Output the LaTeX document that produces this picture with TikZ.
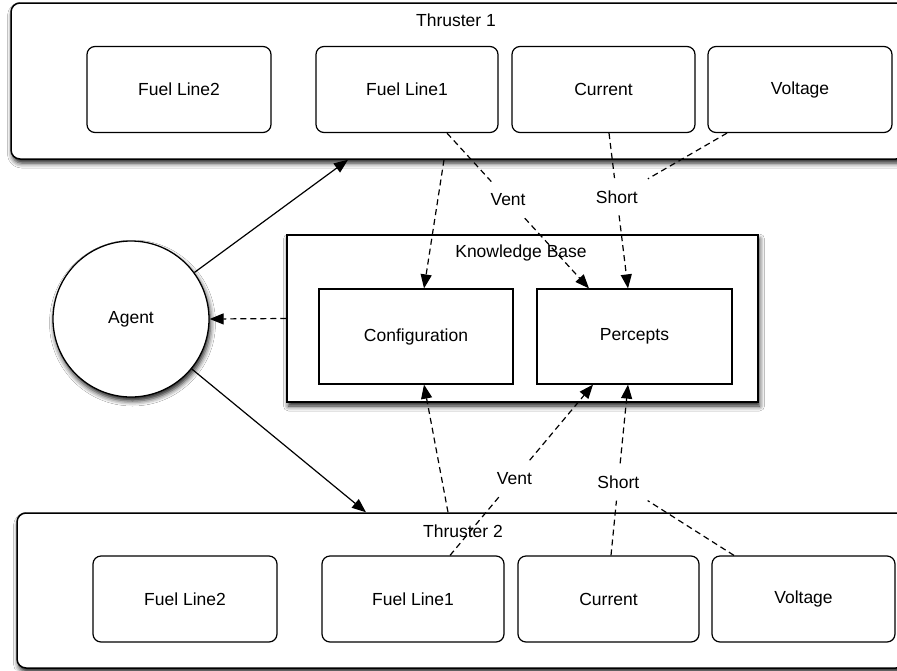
\documentclass[tikz,border=0pt]{standalone}
\usepackage{fontspec}
\setmainfont{Liberation Sans}
\usetikzlibrary{arrows.meta,shadows.blur}

\tikzset{
  txt/.style={font=\fontsize{17.5}{21}\selectfont},
  softshadow/.style={blur shadow={shadow xshift=1.5pt, shadow yshift=-4pt,
      shadow blur radius=5pt, shadow opacity=90}},
  thruster/.style={draw, line width=1.5pt, rounded corners=9pt, fill=white,
      softshadow, inner sep=0pt},
  part/.style={draw, line width=1.2pt, rounded corners=8pt, fill=white,
      minimum width=183pt, minimum height=86pt, inner sep=0pt, txt},
  kbox/.style={draw, line width=1.5pt, fill=white, softshadow, inner sep=0pt},
  kpart/.style={draw, line width=1.2pt, fill=white, minimum height=95pt,
      inner sep=0pt, txt},
  agentnode/.style={draw, circle, line width=1.3pt, fill=white, softshadow,
      minimum size=156pt, inner sep=0pt, txt},
  lbl/.style={txt, inner xsep=10pt, inner ysep=12pt},
  solidarr/.style={line width=1.2pt, -{Triangle[length=14pt,width=11pt]}},
  dashline/.style={line width=1.2pt, dash pattern=on 6pt off 4pt},
  dasharr/.style={dashline, -{Triangle[length=14pt,width=11pt]}},
}

\begin{document}
\begin{tikzpicture}[x=1pt,y=-1pt]
\clip (0,0) rectangle (897,670);
\fill[white] (0,0) rectangle (897,670);

% Thruster 1 with its four parts
\node[thruster, minimum width=894pt, minimum height=156pt] (T1) at (458,81) {};
\node[txt] (T1title) at (456,20) {Thruster 1};
\node[part, minimum width=184pt] (fl2a) at (179,89.5) {Fuel Line2};
\node[part, minimum width=182pt] (fl1a) at (407,89.5) {Fuel Line1};
\node[part] (cura) at (603.5,89.5) {Current};
\node[part, minimum width=184pt] (vola) at (800,89.5) {Voltage};

% Thruster 2 with its four parts
\node[thruster, minimum width=888pt, minimum height=155pt] (T2) at (461,590.5) {};
\node[txt] (T2title) at (463,531) {Thruster 2};
\node[part, minimum width=184pt] (fl2b) at (185,599) {Fuel Line2};
\node[part, minimum width=182pt] (fl1b) at (413,599) {Fuel Line1};
\node[part, minimum width=181pt] (curb) at (608.5,599) {Current};
\node[part] (volb) at (803.5,599) {Voltage};

% Knowledge base
\node[kbox, minimum width=471pt, minimum height=167pt] (kb) at (522.5,318.5) {};
\node[txt] (kbtitle) at (521,253) {Knowledge Base};
\node[kpart, minimum width=194pt] (cfg) at (416,336.5) {Configuration};
\node[kpart, minimum width=195pt] (perc) at (634.5,336.5) {Percepts};

% Agent
\node[agentnode] (agent) at (131,319) {Agent};

% Agent acts on both thrusters and reads the knowledge base
\draw[solidarr] (agent) -- ([xshift=-110pt]T1.south);
\draw[solidarr] (agent) -- ([xshift=-95pt]T2.north);
\draw[dasharr] (kb.west) -- (agent.east);

% Thruster 1 into the knowledge base
\draw[dasharr] ([xshift=-14pt]T1.south) -- ([xshift=8pt]cfg.north);
\path ([xshift=40pt]fl1a.south) -- node[lbl, pos=0.43] (ventA) {Vent} ([xshift=-45.5pt]perc.north);
\draw[dashline] ([xshift=40pt]fl1a.south) -- (ventA);
\draw[dasharr] (ventA) -- ([xshift=-45.5pt]perc.north);
\path ([xshift=5.5pt]cura.south) -- node[lbl, pos=0.41] (shortA) {Short} ([xshift=-6.5pt]perc.north);
\draw[dashline] ([xshift=5.5pt]cura.south) -- (shortA);
\draw[dasharr] (shortA) -- ([xshift=-6.5pt]perc.north);
\draw[dashline] ([xshift=-73pt]vola.south) -- (shortA);

% Thruster 2 into the knowledge base
\draw[dasharr] ([xshift=-13pt]T2.north) -- ([xshift=8pt]cfg.south);
\path ([xshift=37pt]fl1b.north) -- node[lbl, pos=0.45] (ventB) {Vent} ([xshift=-41.5pt]perc.south);
\draw[dashline] ([xshift=37pt]fl1b.north) -- (ventB);
\draw[dasharr] (ventB) -- ([xshift=-41.5pt]perc.south);
\path ([xshift=2.5pt]curb.north) -- node[lbl, pos=0.43] (shortB) {Short} ([xshift=-6.5pt]perc.south);
\draw[dashline] ([xshift=2.5pt]curb.north) -- (shortB);
\draw[dasharr] (shortB) -- ([xshift=-6.5pt]perc.south);
\draw[dashline] ([xshift=-69.5pt]volb.north) -- (shortB);
\end{tikzpicture}
\end{document}
